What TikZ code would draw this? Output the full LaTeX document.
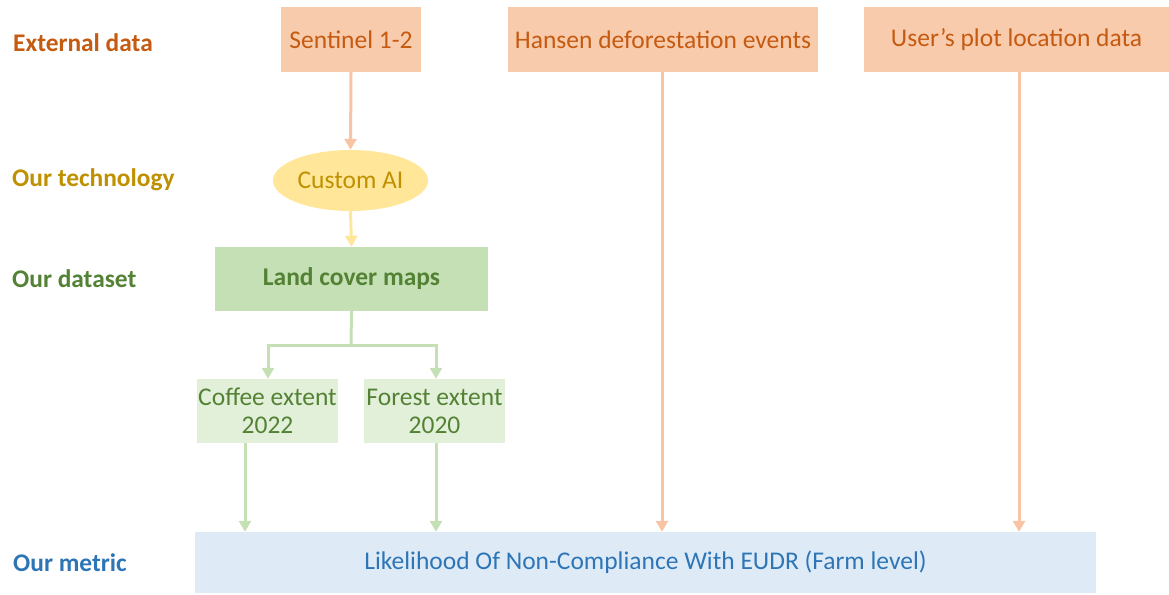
\documentclass[tikz,border=0pt]{standalone}
\usepackage{fontspec}
\setmainfont{Carlito}
\usetikzlibrary{arrows.meta,shapes.geometric}
\definecolor{extfill}{HTML}{F8CBAD}
\definecolor{exttext}{HTML}{C55A11}
\definecolor{extline}{HTML}{F8C4A4}
\definecolor{techfill}{HTML}{FFE699}
\definecolor{techtext}{HTML}{BF9000}
\definecolor{dsfill}{HTML}{C5E0B4}
\definecolor{dstext}{HTML}{548235}
\definecolor{dslight}{HTML}{E2F0D9}
\definecolor{dsline}{HTML}{C5E0B4}
\definecolor{metfill}{HTML}{DEEBF7}
\definecolor{mettext}{HTML}{2E75B6}
\tikzset{
  box/.style={draw=none, inner sep=0pt, align=center, font=\fontsize{25.5}{28}\selectfont},
  extbox/.style={box, fill=extfill, text=exttext},
  lbl/.style={anchor=west, inner sep=0pt, font=\fontsize{25.4}{28}\selectfont\bfseries},
  conn/.style={line width=3pt, -{Triangle[width=12pt,length=11pt]}},
}
\begin{document}
\begin{tikzpicture}[x=1pt,y=-1pt]
\useasboundingbox (0,0) rectangle (1169,594);
% row labels
\node[lbl, text=exttext] (l1) at (13,43) {External data};
\node[lbl, text=techtext] (l2) at (12,180) {Our technology};
\node[lbl, text=dstext] (l3) at (12,279) {Our dataset};
\node[lbl, text=mettext] (l4) at (13,563) {Our metric};
% external
\node[extbox, minimum width=140pt, minimum height=65pt] (sen) at (351,39.5) {Sentinel 1-2};
\node[extbox, minimum width=310pt, minimum height=65pt] (han) at (663,39.5) {Hansen deforestation events};
\node[extbox, minimum width=305pt, minimum height=65pt] (usr) at (1016.5,39.5) {User’s plot location data};
% technology
\node[box, ellipse, fill=techfill, text=techtext, minimum width=155pt, minimum height=61pt] (ai) at (350.5,180.5) {Custom AI};
% dataset
\node[box, fill=dsfill, text=dstext, minimum width=273pt, minimum height=64pt, font=\fontsize{25.5}{28}\selectfont\bfseries] (lc) at (351.5,279) {Land cover maps};
\node[box, fill=dslight, text=dstext, minimum width=141pt, minimum height=64pt] (cof) at (267.5,411) {Coffee extent\\2022};
\node[box, fill=dslight, text=dstext, minimum width=141pt, minimum height=64pt] (for) at (434.5,411) {Forest extent\\2020};
% metric
\node[box, fill=metfill, text=mettext, minimum width=901pt, minimum height=61pt] (met) at (645.5,562.5) {Likelihood Of Non-Compliance With EUDR (Farm level)};
% connectors
\draw[conn, color=extline] (sen.south) -- (ai.north);
\draw[conn, color=techfill] (ai.south) -- (lc.north);
\coordinate (split) at (351,345);
\draw[line width=3pt, dsline] (lc.south) -- (split);
\draw[conn, color=dsline] (split) -| (cof.north -| 268,0);
\draw[conn, color=dsline] (split) -| (for.north -| 436,0);
\draw[conn, color=dsline] (cof.south -| 245,0) -- (met.north -| 245,0);
\draw[conn, color=dsline] (for.south -| 436,0) -- (met.north -| 436,0);
\draw[conn, color=extline] (han.south -| 662,0) -- (met.north -| 662,0);
\draw[conn, color=extline] (usr.south -| 1019,0) -- (met.north -| 1019,0);
\end{tikzpicture}
\end{document}
